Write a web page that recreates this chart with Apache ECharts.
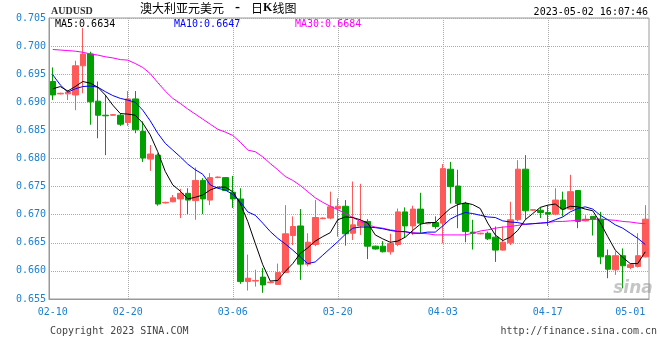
<!DOCTYPE html>
<html><head><meta charset="utf-8">
<script src="https://cdn.jsdelivr.net/npm/echarts@6/dist/echarts.min.js"></script>
<style>html,body{margin:0;padding:0;background:#fff}#c{width:660px;height:360px}</style>
</head><body><div id="c"></div>
<script>
// ---- data ----
const categories = [
'02-10','02-11','02-12','02-13','02-14','02-15','02-16','02-17','02-18','02-19',
'02-20','02-21','02-22','02-23','02-24','02-25','02-26','02-27','02-28','03-01',
'03-02','03-03','03-04','03-05','03-06','03-07','03-08','03-09','03-10','03-11',
'03-12','03-13','03-14','03-15','03-16','03-17','03-18','03-19','03-20','03-21',
'03-22','03-23','03-24','03-25','03-26','03-27','03-28','03-29','03-30','03-31',
'04-01','04-02','04-03','04-04','04-05','04-06','04-07','04-08','04-09','04-10',
'04-11','04-12','04-13','04-14','04-15','04-16','04-17','04-18','04-19','04-20',
'04-21','04-22','04-23','04-24','04-25','04-26','04-27','04-28','04-29','05-01'];

const opens = [.6937,.6915,.6915,.6913,.6965,.6986,.6902,.6877,.6877,.6877,
.6864,.6906,.6848,.6799,.6806,.6721,.6723,.6728,.6738,.6725,
.6761,.6726,.6766,.6766,.6740,.6728,.6581,.6582,.6589,.6579,
.6576,.6597,.6663,.6680,.6612,.6647,.6693,.6694,.6711,.6715,
.6667,.6680,.6688,.6644,.6644,.6634,.6647,.6705,.6680,.6710,
.6684,.6686,.6685,.6781,.6751,.6720,.6669,.6666,.6667,.6660,
.6637,.6650,.6691,.6781,.6708,.6708,.6704,.6701,.6726,.6710,
.6743,.6689,.6697,.6692,.6627,.6602,.6627,.6606,.6608,.6625];

const closes = [.6913,.6916,.6918,.6965,.6986,.6901,.6877,.6876,.6878,.6861,
.6906,.6851,.6801,.6808,.6719,.6722,.6730,.6738,.6726,.6761,
.6728,.6766,.6767,.6743,.6728,.6581,.6587,.6583,.6575,.6580,
.6597,.6666,.6679,.6612,.6651,.6695,.6694,.6714,.6715,.6666,
.6682,.6688,.6644,.6639,.6634,.6649,.6705,.6680,.6710,.6685,
.6685,.6679,.6782,.6750,.6720,.6670,.6667,.6667,.6657,.6637,
.6651,.6691,.6781,.6707,.6709,.6704,.6701,.6726,.6710,.6741,
.6688,.6692,.6692,.6625,.6603,.6627,.6609,.6611,.6627,.6692];

const lows = [.6904,.6914,.6904,.6886,.6916,.6860,.6836,.6806,.6876,.6858,
.6858,.6845,.6794,.6778,.6716,.6720,.6722,.6694,.6701,.6691,
.6701,.6717,.6765,.6742,.6712,.6577,.6565,.6572,.6561,.6578,
.6575,.6596,.6646,.6584,.6608,.6644,.6692,.6692,.6661,.6645,
.6655,.6664,.6621,.6638,.6633,.6629,.6644,.6659,.6664,.6667,
.6683,.6675,.6649,.6720,.6676,.6651,.6638,.6665,.6655,.6616,
.6636,.6646,.6688,.6692,.6707,.6694,.6680,.6699,.6697,.6708,
.6676,.6688,.6663,.6612,.6587,.6593,.6569,.6603,.6606,.6624];

const highs = [.6962,.6917,.6922,.6974,.7032,.6990,.6937,.6913,.6879,.6880,
.6920,.6920,.6866,.6824,.6809,.6723,.6735,.6746,.6747,.6784,
.6765,.6774,.6768,.6767,.6769,.6747,.6629,.6602,.6605,.6581,
.6613,.6717,.6697,.6710,.6667,.6726,.6695,.6741,.6729,.6726,
.6759,.6755,.6692,.6645,.6653,.6666,.6711,.6713,.6716,.6739,
.6686,.6697,.6790,.6794,.6780,.6723,.6691,.6668,.6670,.6679,
.6679,.6723,.6797,.6806,.6710,.6713,.6717,.6747,.6741,.6771,
.6743,.6699,.6697,.6705,.6638,.6635,.6640,.6613,.6667,.6717];

const ma5 = [.6924,.6928,.6920,.6928,.6937,.6934,.6927,.6913,.6895,.6880,
.6879,.6877,.6863,.6842,.6812,.6777,.6753,.6742,.6728,.6731,
.6735,.6744,.6749,.6749,.6741,.6720,.6688,.6649,.6611,.6582,
.6583,.6599,.6613,.6631,.6641,.6653,.6661,.6668,.6691,.6696,
.6695,.6691,.6685,.6664,.6657,.6651,.6653,.6660,.6672,.6683,
.6686,.6686,.6699,.6711,.6718,.6721,.6718,.6711,.6685,.6664,
.6654,.6660,.6672,.6691,.6702,.6713,.6717,.6719,.6709,.6715,
.6714,.6710,.6707,.6686,.6661,.6637,.6624,.6613,.6613,.6634];

const ma10 = [.6949,.6931,.6918,.6924,.6928,.6929,.6927,.6919,.6912,.6907,
.6904,.6900,.6886,.6867,.6845,.6827,.6815,.6803,.6790,.6780,
.6772,.6753,.6747,.6744,.6736,.6723,.6705,.6699,.6685,.6670,
.6658,.6648,.6637,.6625,.6613,.6616,.6628,.6640,.6652,.6665,
.6676,.6678,.6678,.6677,.6675,.6672,.6670,.6670,.6667,.6667,
.6669,.6669,.6680,.6692,.6699,.6704,.6702,.6699,.6696,.6695,
.6689,.6687,.6686,.6683,.6684,.6685,.6686,.6691,.6696,.6705,
.6711,.6714,.6710,.6699,.6691,.6682,.6676,.6667,.6658,.6647];

const ma30 = [.6994,.6993,.6992,.6991,.6989,.6986,.6984,.6981,.6979,.6976,
.6975,.6969,.6962,.6951,.6935,.6920,.6907,.6898,.6888,.6879,
.6870,.6861,.6852,.6847,.6841,.6829,.6815,.6812,.6803,.6791,
.6780,.6768,.6761,.6752,.6741,.6730,.6722,.6715,.6709,.6702,
.6695,.6688,.6682,.6678,.6676,.6673,.6671,.6669,.6668,.6667,
.6666,.6664,.6664,.6664,.6664,.6664,.6667,.6671,.6673,.6676,
.6678,.6679,.6681,.6683,.6684,.6685,.6686,.6688,.6688,.6689,
.6690,.6691,.6692,.6692,.6691,.6690,.6688,.6687,.6685,.6684];

const tickLabels = ['02-10','02-20','03-06','03-20','04-03','04-17','05-01'];
const gridDates = ['02-20','03-06','03-20','04-03','04-17'];
const yMin = 0.655, yMax = 0.705, yStep = 0.005;

// ---- chart ----
const mono = '"DejaVu Sans Mono", monospace';
const candleData = opens.map((o, i) => [o, closes[i], lows[i], highs[i]]);
const last = a => a[a.length - 1].toFixed(4);

const chart = echarts.init(document.getElementById('c'), null, {renderer: 'canvas'});
chart.setOption({
  animation: false,
  backgroundColor: '#fff',
  grid: {left: 49, right: 11, top: 18, bottom: 61, show: true, borderColor: '#999', borderWidth: 1, backgroundColor: 'transparent'},
  xAxis: {
    type: 'category', data: categories, boundaryGap: true,
    axisLine: {show: true, lineStyle: {color: '#999'}},
    axisTick: {show: false},
    axisLabel: {
      color: '#1c80d0', fontFamily: mono, fontSize: 10, margin: 8,
      interval: (i, v) => tickLabels.includes(v),
      alignMaxLabel: 'right'
    },
    splitLine: {show: false}
  },
  yAxis: {
    type: 'value', min: yMin, max: yMax, interval: yStep, scale: true,
    axisLine: {show: true, lineStyle: {color: '#999'}},
    axisTick: {show: false},
    axisLabel: {color: '#1c80d0', fontFamily: mono, fontSize: 10, margin: 3, formatter: v => v.toFixed(3)},
    splitLine: {show: true, lineStyle: {color: '#aaa', type: 'dotted', width: 1}}
  },
  series: [
    {
      type: 'candlestick', data: candleData, barWidth: 6, z: 2,
      itemStyle: {color: '#ff5a5a', color0: '#00a000', borderColor: '#ff5a5a', borderColor0: '#00a000', borderWidth: 1},
      markLine: {
        silent: true, symbol: 'none', z: 1, animation: false,
        label: {show: false},
        lineStyle: {color: '#aaa', type: 'dotted', width: 1},
        emphasis: {disabled: true},
        data: gridDates.map(d => ({xAxis: d}))
      }
    },
    {type: 'line', data: ma30, showSymbol: false, symbol: 'none', z: 3, lineStyle: {color: '#ff00ff', width: 1}, itemStyle: {color: '#ff00ff'}},
    {type: 'line', data: ma10, showSymbol: false, symbol: 'none', z: 3, lineStyle: {color: '#0000ff', width: 1}, itemStyle: {color: '#0000ff'}},
    {type: 'line', data: ma5, showSymbol: false, symbol: 'none', z: 4, lineStyle: {color: '#000000', width: 1}, itemStyle: {color: '#000'}}
  ],
  graphic: [
    {type: 'text', x: 51, y: 11, style: {text: 'AUDUSD', font: 'bold 10px "Liberation Serif"', fill: '#333', verticalAlign: 'middle'}},
    {type: 'text', x: 140, y: 8, style: {
      text: '澳大利亚元美元{s| - }日{k|K}线图',
      font: '12px "Noto Sans CJK SC"', fill: '#000', verticalAlign: 'middle',
      rich: {s: {font: '15px "DejaVu Sans Mono"', fill: '#000'}, k: {font: 'bold 12px "Liberation Serif"', fill: '#000'}}
    }},
    {type: 'text', x: 648, y: 12, style: {text: '2023-05-02 16:07:46', font: '10px ' + mono, fill: '#000', align: 'right', verticalAlign: 'middle'}},
    {type: 'text', x: 55, y: 24, z: 10, style: {text: 'MA5:' + last(ma5), font: '10px ' + mono, fill: '#000', verticalAlign: 'middle'}},
    {type: 'text', x: 174, y: 24, z: 10, style: {text: 'MA10:' + last(ma10), font: '10px ' + mono, fill: '#0000ff', verticalAlign: 'middle'}},
    {type: 'text', x: 295, y: 24, z: 10, style: {text: 'MA30:' + last(ma30), font: '10px ' + mono, fill: '#ff00ff', verticalAlign: 'middle'}},
    {type: 'text', x: 50, y: 331, style: {text: 'Copyright 2023 SINA.COM', font: '10px ' + mono, fill: '#444', verticalAlign: 'middle'}},
    {type: 'text', x: 657, y: 331, style: {text: 'http://finance.sina.com.cn', font: '10px ' + mono, fill: '#444', align: 'right', verticalAlign: 'middle'}},
    {type: 'text', x: 633, y: 289, z: 10, style: {text: 'sina', font: 'italic bold 17px "DejaVu Sans"', fill: 'rgba(150,150,150,0.55)', align: 'center', verticalAlign: 'middle'}}
  ]
});
</script></body></html>
